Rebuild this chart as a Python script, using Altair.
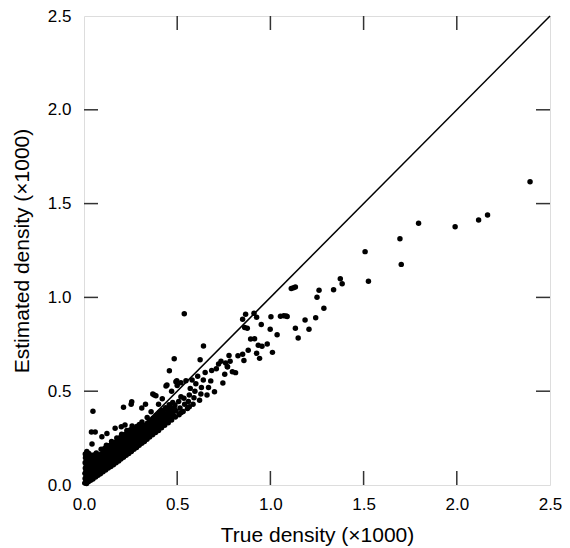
import altair as alt
import pandas as pd

# (true density, estimated density), both x1000
cluster_pts = [
    (0.004, 0.010), (0.006, 0.035), (0.005, 0.062), (0.007, 0.090), (0.006, 0.118), (0.008, 0.145), (0.007, 0.165),
    (0.014, 0.008), (0.016, 0.030), (0.015, 0.055), (0.017, 0.080), (0.014, 0.105), (0.016, 0.130), (0.018, 0.158), (0.015, 0.178),
    (0.025, 0.018), (0.026, 0.042), (0.024, 0.068), (0.027, 0.092), (0.025, 0.118), (0.028, 0.142), (0.026, 0.168),
    (0.036, 0.025), (0.037, 0.050), (0.035, 0.075), (0.038, 0.100), (0.036, 0.125), (0.037, 0.150),
    (0.048, 0.032), (0.050, 0.058), (0.047, 0.082), (0.051, 0.108), (0.049, 0.132), (0.052, 0.160),
    (0.062, 0.042), (0.060, 0.066), (0.063, 0.090), (0.061, 0.115), (0.064, 0.140), (0.066, 0.170),
    (0.075, 0.052), (0.077, 0.076), (0.074, 0.100), (0.078, 0.125), (0.076, 0.150),
    (0.088, 0.060), (0.090, 0.085), (0.087, 0.110), (0.091, 0.135), (0.089, 0.162), (0.092, 0.190),
    (0.102, 0.070), (0.104, 0.095), (0.101, 0.120), (0.105, 0.145), (0.103, 0.172),
    (0.116, 0.080), (0.118, 0.104), (0.115, 0.130), (0.119, 0.155), (0.117, 0.182), (0.120, 0.212),
    (0.130, 0.090), (0.132, 0.114), (0.129, 0.138), (0.133, 0.164), (0.131, 0.192),
    (0.144, 0.098), (0.146, 0.122), (0.143, 0.148), (0.147, 0.172), (0.145, 0.200), (0.148, 0.232),
    (0.158, 0.108), (0.160, 0.132), (0.157, 0.158), (0.161, 0.182), (0.159, 0.210),
    (0.172, 0.118), (0.174, 0.142), (0.171, 0.168), (0.175, 0.192), (0.173, 0.222), (0.176, 0.250),
    (0.186, 0.128), (0.188, 0.152), (0.185, 0.178), (0.189, 0.202), (0.187, 0.232),
    (0.198, 0.138), (0.200, 0.162), (0.197, 0.188), (0.201, 0.212), (0.199, 0.242), (0.202, 0.270),
]

cluster_fill_pts = [
    (0.010, 0.022), (0.011, 0.048), (0.010, 0.075), (0.012, 0.100), (0.011, 0.125), (0.012, 0.150),
    (0.020, 0.020), (0.021, 0.045), (0.020, 0.070), (0.022, 0.095), (0.021, 0.122), (0.020, 0.150),
    (0.031, 0.030), (0.030, 0.058), (0.032, 0.084), (0.031, 0.110), (0.033, 0.136), (0.032, 0.160),
    (0.043, 0.040), (0.042, 0.068), (0.044, 0.094), (0.043, 0.120), (0.045, 0.146),
    (0.056, 0.050), (0.055, 0.076), (0.057, 0.102), (0.056, 0.128), (0.058, 0.152),
    (0.069, 0.058), (0.070, 0.084), (0.068, 0.110), (0.071, 0.135), (0.070, 0.160),
    (0.082, 0.068), (0.083, 0.094), (0.081, 0.118), (0.084, 0.145),
    (0.096, 0.078), (0.097, 0.102), (0.095, 0.128), (0.098, 0.152),
    (0.109, 0.085), (0.110, 0.110), (0.108, 0.135), (0.111, 0.162), (0.110, 0.195),
    (0.123, 0.095), (0.124, 0.120), (0.122, 0.146), (0.125, 0.172),
    (0.137, 0.105), (0.138, 0.130), (0.136, 0.156), (0.139, 0.182), (0.138, 0.210),
    (0.151, 0.115), (0.152, 0.140), (0.150, 0.166), (0.153, 0.192),
    (0.165, 0.125), (0.166, 0.150), (0.164, 0.176), (0.167, 0.200), (0.166, 0.228),
    (0.179, 0.135), (0.180, 0.160), (0.178, 0.186), (0.181, 0.212),
    (0.192, 0.145), (0.193, 0.170), (0.191, 0.196), (0.194, 0.222), (0.193, 0.252),
    (0.206, 0.155), (0.207, 0.180), (0.205, 0.206), (0.208, 0.232),
    (0.220, 0.165), (0.221, 0.190), (0.219, 0.216), (0.222, 0.242), (0.221, 0.270),
    (0.234, 0.175), (0.235, 0.200), (0.233, 0.226), (0.236, 0.252),
    (0.248, 0.185), (0.249, 0.210), (0.247, 0.238), (0.250, 0.264), (0.249, 0.295),
    (0.262, 0.195), (0.263, 0.222), (0.261, 0.248), (0.264, 0.276),
    (0.276, 0.205), (0.277, 0.232), (0.275, 0.258), (0.278, 0.288),
    (0.290, 0.215), (0.291, 0.244), (0.289, 0.272), (0.292, 0.300),
    (0.304, 0.228), (0.305, 0.256), (0.303, 0.284), (0.306, 0.314),
    (0.318, 0.238), (0.319, 0.268), (0.317, 0.296),
    (0.332, 0.250), (0.333, 0.280), (0.331, 0.310),
    (0.346, 0.262), (0.347, 0.292), (0.345, 0.325),
    (0.360, 0.272), (0.362, 0.305), (0.359, 0.336),
    (0.376, 0.285), (0.378, 0.318), (0.375, 0.350),
    (0.392, 0.298), (0.394, 0.332), (0.391, 0.362),
    (0.408, 0.312), (0.410, 0.346), (0.407, 0.378),
    (0.425, 0.326), (0.427, 0.358), (0.424, 0.392),
    (0.444, 0.340), (0.446, 0.372), (0.443, 0.405),
    (0.462, 0.354), (0.464, 0.388), (0.461, 0.420),
    (0.480, 0.370), (0.482, 0.402),
]

band_pts = [
    (0.212, 0.148), (0.214, 0.172), (0.211, 0.198), (0.215, 0.222), (0.213, 0.252),
    (0.226, 0.158), (0.228, 0.182), (0.225, 0.208), (0.229, 0.234), (0.227, 0.262), (0.230, 0.290),
    (0.240, 0.168), (0.242, 0.192), (0.239, 0.218), (0.243, 0.244), (0.241, 0.274),
    (0.254, 0.178), (0.256, 0.204), (0.253, 0.230), (0.257, 0.256), (0.255, 0.286), (0.258, 0.315),
    (0.268, 0.190), (0.270, 0.214), (0.267, 0.240), (0.271, 0.266), (0.269, 0.298),
    (0.282, 0.200), (0.284, 0.226), (0.281, 0.252), (0.285, 0.280), (0.283, 0.312),
    (0.296, 0.212), (0.298, 0.238), (0.295, 0.264), (0.299, 0.292), (0.297, 0.322),
    (0.310, 0.222), (0.312, 0.248), (0.309, 0.276), (0.313, 0.304), (0.311, 0.336),
    (0.324, 0.232), (0.326, 0.260), (0.323, 0.288), (0.327, 0.318),
    (0.338, 0.244), (0.340, 0.270), (0.337, 0.300), (0.341, 0.330), (0.339, 0.360),
    (0.352, 0.256), (0.355, 0.284), (0.351, 0.312), (0.356, 0.342),
    (0.368, 0.268), (0.370, 0.296), (0.367, 0.326), (0.371, 0.356),
    (0.384, 0.280), (0.386, 0.310), (0.383, 0.340), (0.388, 0.372),
    (0.400, 0.290), (0.402, 0.322), (0.399, 0.352), (0.404, 0.386),
    (0.416, 0.305), (0.418, 0.336), (0.415, 0.366), (0.420, 0.398),
    (0.433, 0.318), (0.436, 0.350), (0.431, 0.380), (0.438, 0.412),
    (0.452, 0.332), (0.455, 0.362), (0.450, 0.394), (0.457, 0.428),
    (0.470, 0.346), (0.473, 0.378), (0.468, 0.410), (0.476, 0.440),
    (0.490, 0.362), (0.494, 0.395), (0.488, 0.426),
]

mid_pts = [
    (0.510, 0.375), (0.515, 0.410), (0.508, 0.445), (0.520, 0.470),
    (0.532, 0.392), (0.540, 0.430), (0.536, 0.462),
    (0.555, 0.408), (0.560, 0.445), (0.565, 0.480), (0.570, 0.515),
    (0.585, 0.430), (0.590, 0.465), (0.595, 0.500), (0.600, 0.540), (0.610, 0.580),
    (0.620, 0.452), (0.627, 0.485), (0.630, 0.520), (0.640, 0.560), (0.650, 0.600),
    (0.660, 0.480), (0.668, 0.520), (0.680, 0.555), (0.685, 0.610), (0.700, 0.497),
    (0.710, 0.620), (0.722, 0.645), (0.735, 0.660), (0.745, 0.544), (0.755, 0.590),
    (0.760, 0.650), (0.770, 0.630), (0.778, 0.690), (0.784, 0.660), (0.796, 0.604),
    (0.813, 0.599), (0.769, 0.630), (0.547, 0.556), (0.493, 0.551), (0.565, 0.417),
    (0.484, 0.409), (0.460, 0.380), (0.520, 0.385),
]

upper_pts = [
    (0.048, 0.393), (0.040, 0.283), (0.060, 0.283), (0.043, 0.219), (0.096, 0.257),
    (0.123, 0.275), (0.167, 0.302), (0.200, 0.310), (0.220, 0.320), (0.212, 0.414),
    (0.256, 0.444), (0.253, 0.430), (0.310, 0.410), (0.330, 0.430), (0.369, 0.485),
    (0.386, 0.476), (0.377, 0.480), (0.440, 0.528), (0.445, 0.533), (0.458, 0.609),
    (0.484, 0.673), (0.498, 0.556), (0.538, 0.913), (0.641, 0.741), (0.623, 0.668),
    (0.360, 0.390), (0.400, 0.430), (0.420, 0.460), (0.470, 0.500), (0.500, 0.530),
    (0.520, 0.545), (0.580, 0.560),
]

high_pts = [
    (0.867, 0.910), (0.851, 0.883), (0.912, 0.915), (0.926, 0.894), (1.003, 0.897),
    (1.054, 0.900), (1.072, 0.902), (1.090, 0.898), (0.951, 0.855), (0.862, 0.840),
    (0.876, 0.835), (0.999, 0.830), (1.036, 0.801), (0.894, 0.778), (0.915, 0.780),
    (0.935, 0.745), (0.955, 0.740), (0.983, 0.752), (0.881, 0.718), (0.926, 0.702),
    (1.011, 0.707), (0.942, 0.675), (0.826, 0.689), (0.851, 0.697), (0.858, 0.664),
    (1.112, 1.048), (1.124, 1.052), (1.134, 1.055), (1.084, 0.901), (1.149, 0.784),
    (1.134, 0.835), (1.207, 0.830), (1.186, 0.880), (1.243, 0.892), (1.287, 0.942),
    (1.250, 1.001), (1.261, 1.038), (1.339, 1.041), (1.385, 1.073), (1.375, 1.100),
    (1.526, 1.086), (1.508, 1.244), (1.695, 1.313), (1.702, 1.176), (1.795, 1.395),
    (1.991, 1.377), (2.117, 1.413), (2.165, 1.439), (2.393, 1.617),
]

axis_values = [0.0, 0.5, 1.0, 1.5, 2.0, 2.5]
inner_ticks = [0.5, 1.0, 1.5, 2.0]
identity_line = [0.0, 2.5]

rows = cluster_pts + cluster_fill_pts + band_pts + mid_pts + upper_pts + high_pts
df = pd.DataFrame(rows, columns=["true", "est"])
line_df = pd.DataFrame({"true": identity_line, "est": identity_line})
xt_df = pd.DataFrame({"true": inner_ticks})
yt_df = pd.DataFrame({"est": inner_ticks})

W, H = 466, 469
TICK = 14
FONT = "Liberation Sans"

xs = alt.Scale(domain=[0, 2.5], nice=False, zero=False)
ys = alt.Scale(domain=[0, 2.5], nice=False, zero=False)

x_axis = alt.Axis(values=axis_values, format=".1f", ticks=False, domain=False, grid=False,
                  labelFontSize=17, labelPadding=11, labelFlush=False, labelColor="black",
                  title="True density (\u00d71000)", titleFontSize=21, titleFontWeight="normal",
                  titleColor="black", titlePadding=12)
y_axis = alt.Axis(values=axis_values, format=".1f", ticks=False, domain=False, grid=False,
                  labelFontSize=17, labelPadding=13, labelFlush=False, labelColor="black",
                  title="Estimated density (\u00d71000)", titleFontSize=21, titleFontWeight="normal",
                  titleColor="black", titlePadding=15)

points = alt.Chart(df).mark_circle(size=30, color="black", opacity=1).encode(
    x=alt.X("true:Q", scale=xs, axis=x_axis),
    y=alt.Y("est:Q", scale=ys, axis=y_axis),
)

diag = alt.Chart(line_df).mark_line(color="black", strokeWidth=1.5).encode(
    x=alt.X("true:Q", scale=xs),
    y=alt.Y("est:Q", scale=ys),
)

bottom_ticks = alt.Chart(xt_df).mark_rule(color="#333333", strokeWidth=1.5).encode(
    x=alt.X("true:Q", scale=xs), y=alt.value(H), y2=alt.value(H - TICK))
top_ticks = alt.Chart(xt_df).mark_rule(color="#333333", strokeWidth=1.5).encode(
    x=alt.X("true:Q", scale=xs), y=alt.value(0), y2=alt.value(TICK))
left_ticks = alt.Chart(yt_df).mark_rule(color="#333333", strokeWidth=1.5).encode(
    y=alt.Y("est:Q", scale=ys), x=alt.value(0), x2=alt.value(TICK))
right_ticks = alt.Chart(yt_df).mark_rule(color="#333333", strokeWidth=1.5).encode(
    y=alt.Y("est:Q", scale=ys), x=alt.value(W), x2=alt.value(W - TICK))

chart = alt.layer(points, diag, bottom_ticks, top_ticks, left_ticks, right_ticks).properties(
    width=W, height=H,
    autosize=alt.AutoSizeParams(type="none"),
    padding={"left": 76, "top": 8, "right": 12, "bottom": 62},
).configure_view(
    stroke="black", strokeWidth=1.8
).configure(
    font=FONT
)

chart.save("out.html", embed_options={"renderer": "svg", "actions": False})
